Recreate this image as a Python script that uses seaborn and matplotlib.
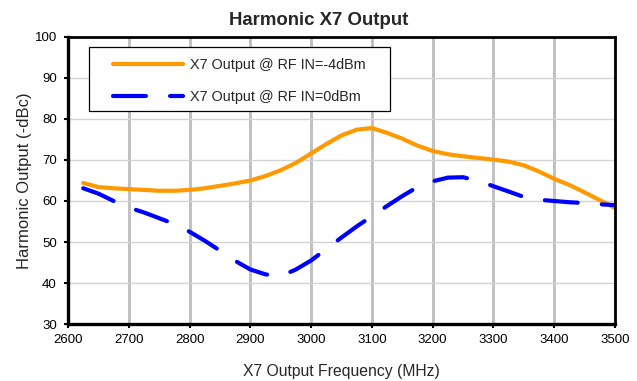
import matplotlib
matplotlib.use("Agg")
import matplotlib.pyplot as plt
from matplotlib.patches import Rectangle
import seaborn as sns
import pandas as pd

freq = [2625, 2650, 2675, 2700, 2725, 2750, 2775, 2800, 2825, 2850, 2875,
        2900, 2925, 2950, 2975, 3000, 3025, 3050, 3075, 3100, 3125, 3150,
        3175, 3200, 3225, 3250, 3275, 3300, 3325, 3350, 3375, 3400, 3425,
        3450, 3475, 3500]
out_m4 = [64.4, 63.4, 63.1, 62.9, 62.7, 62.5, 62.5, 62.7, 63.1, 63.7, 64.3,
          65.0, 66.1, 67.5, 69.3, 71.6, 73.9, 76.0, 77.4, 77.8, 76.6, 75.2,
          73.5, 72.2, 71.4, 70.9, 70.5, 70.1, 69.6, 68.7, 67.2, 65.4, 63.9,
          62.1, 60.2, 58.3]
out_0 = [63.1, 61.8, 60.0, 58.4, 57.2, 55.8, 54.4, 52.5, 50.3, 47.9, 45.4,
         43.3, 42.1, 41.7, 43.3, 45.5, 48.3, 51.1, 53.8, 56.3, 58.8, 61.2,
         63.4, 64.8, 65.7, 65.8, 64.9, 63.6, 62.3, 61.0, 60.3, 60.0, 59.7,
         59.5, 59.2, 59.0]
labels = ["X7 Output @ RF IN=-4dBm", "X7 Output @ RF IN=0dBm"]
xticks = [2600, 2700, 2800, 2900, 3000, 3100, 3200, 3300, 3400, 3500]
yticks = [30, 40, 50, 60, 70, 80, 90, 100]

sns.set_theme(style="white")
plt.rcParams['font.family'] = ['Liberation Sans', 'DejaVu Sans']

df = pd.DataFrame({
    "freq": freq * 2,
    "val": out_m4 + out_0,
    "series": [labels[0]] * len(freq) + [labels[1]] * len(freq),
})

fig = plt.figure(figsize=(6.37, 3.81), dpi=100)
ax = fig.add_axes([0.1068, 0.1496, 0.8587, 0.7533])

sns.lineplot(data=df[df.series == labels[0]], x="freq", y="val", ax=ax,
             color="#FF9900", linewidth=3.0, label=labels[0],
             solid_capstyle="round", solid_joinstyle="round")
sns.lineplot(data=df[df.series == labels[1]], x="freq", y="val", ax=ax,
             color="#0000FF", linewidth=3.0, label=labels[1])
line_b = ax.get_lines()[-1]
line_b.set_dashes([7.9, 5.8])
line_b.set_dash_capstyle("round")
line_b.set_dash_joinstyle("round")

ax.set_xlim(2600, 3500)
ax.set_ylim(30, 100)
ax.set_xticks(xticks)
ax.set_yticks(yticks)
ax.tick_params(axis="both", labelsize=9.5, colors="black", direction="out",
               length=3, width=1.5, left=True, bottom=True)
ax.tick_params(axis="y", pad=5)
ax.tick_params(axis="x", pad=4)

ax.xaxis.grid(True, color="#C0C0C0", linewidth=2.1)
ax.yaxis.grid(True, color="#D3D3D3", linewidth=1.0)
ax.set_axisbelow(True)

for side in ["left", "bottom"]:
    ax.spines[side].set_linewidth(2.4)
    ax.spines[side].set_color("black")
for side in ["top", "right"]:
    ax.spines[side].set_linewidth(2.0)
    ax.spines[side].set_color("black")
    ax.spines[side].set_visible(True)

ax.set_xlabel("X7 Output Frequency (MHz)", fontsize=11.3, labelpad=13)
ax.set_ylabel("Harmonic Output (-dBc)", fontsize=12, labelpad=2)
fig.text(0.5, 1 - 25 / 381, "Harmonic X7 Output", fontsize=13.4,
         fontweight="bold", ha="center", va="baseline")

# legend frame
ax.add_patch(Rectangle((0.0384, 0.7422), 0.5503, 0.223,
                       transform=ax.transAxes, facecolor="white",
                       edgecolor="black", linewidth=0.9, zorder=5))
leg = ax.legend(loc="upper left", bbox_to_anchor=(0.0823, 0.927),
                fontsize=10.4, frameon=False, handlelength=4.85,
                borderpad=0, labelspacing=1.28, handletextpad=0.5,
                borderaxespad=0)
leg.set_zorder(6)

fig.savefig("out.png", dpi=100)
